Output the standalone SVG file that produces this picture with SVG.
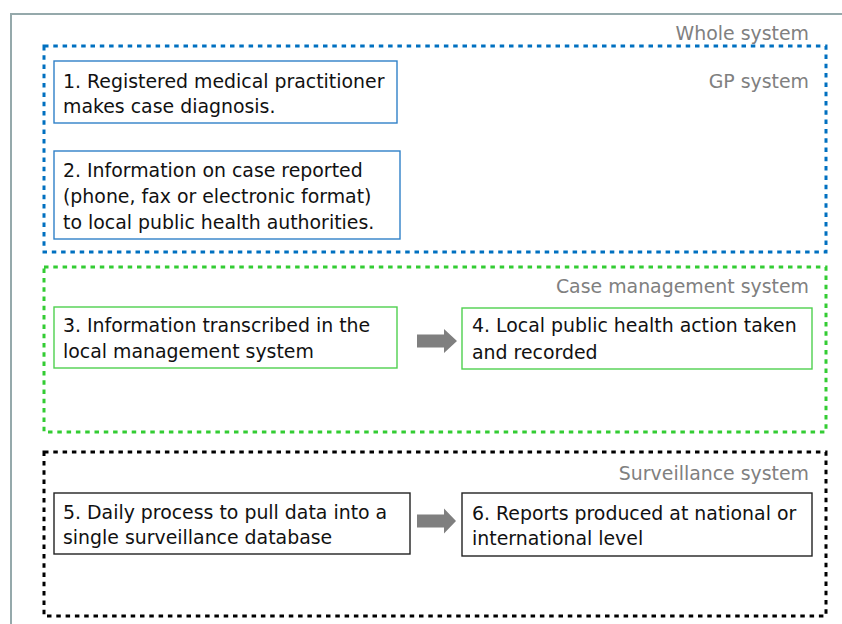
<svg xmlns="http://www.w3.org/2000/svg" width="842" height="624" viewBox="0 0 842 624">
  <style>
    .frame { fill: none; stroke: #95a9ab; stroke-width: 2; }
    .zone { fill: none; stroke-width: 3; stroke-dasharray: 4.5 4.8; }
    .zone-gp { stroke: #0070c0; }
    .zone-case { stroke: #33cc33; }
    .zone-surv { stroke: #000000; }
    .box { fill: #ffffff; stroke-width: 1.4; }
    .box-gp { stroke: #2f80c8; }
    .box-case { stroke: #4fd04f; }
    .box-surv { stroke: #222222; }
    .label { font-family: "DejaVu Sans", "Liberation Sans", sans-serif; font-size: 18.9px; fill: #808080; text-anchor: end; }
    .txt { font-family: "DejaVu Sans", "Liberation Sans", sans-serif; font-size: 18.9px; fill: #111111; }
    .arrow { fill: #7f7f7f; }
  </style>

  <!-- outer frame (runs off the page to the right and bottom) -->
  <rect class="frame" x="11" y="14" width="900" height="700"/>
  <text class="label" x="809" y="40">Whole system</text>

  <!-- GP system -->
  <g id="gp-system">
    <rect class="zone zone-gp" x="44" y="46" width="782" height="206"/>
    <text class="label" x="809" y="88">GP system</text>
  </g>
  <g id="step1">
    <rect class="box box-gp" x="54" y="61" width="343" height="62"/>
    <text class="txt" x="63" y="88">1. Registered medical practitioner</text>
    <text class="txt" x="63" y="113">makes case diagnosis.</text>
  </g>
  <g id="step2">
    <rect class="box box-gp" x="54" y="151" width="346" height="88"/>
    <text class="txt" x="63" y="177">2. Information on case reported</text>
    <text class="txt" x="63" y="203">(phone, fax or electronic format)</text>
    <text class="txt" x="63" y="229">to local public health authorities.</text>
  </g>

  <!-- Case management system -->
  <g id="case-system">
    <rect class="zone zone-case" x="44" y="267" width="782" height="165"/>
    <text class="label" x="809" y="293">Case management system</text>
  </g>
  <g id="step3">
    <rect class="box box-case" x="54" y="307" width="343" height="61"/>
    <text class="txt" x="63" y="332">3. Information transcribed in the</text>
    <text class="txt" x="63" y="358">local management system</text>
  </g>
  <g id="step4">
    <rect class="box box-case" x="462" y="308" width="350" height="61"/>
    <text class="txt" x="472" y="332">4. Local public health action taken</text>
    <text class="txt" x="472" y="359">and recorded</text>
  </g>

  <!-- Surveillance system -->
  <g id="surveillance-system">
    <rect class="zone zone-surv" x="44" y="452" width="782" height="164"/>
    <text class="label" x="809" y="480">Surveillance system</text>
  </g>
  <g id="step5">
    <rect class="box box-surv" x="54" y="493" width="356" height="61"/>
    <text class="txt" x="63" y="519">5. Daily process to pull data into a</text>
    <text class="txt" x="63" y="544">single surveillance database</text>
  </g>
  <g id="step6">
    <rect class="box box-surv" x="462" y="493" width="350" height="63"/>
    <text class="txt" x="472" y="520">6. Reports produced at national or</text>
    <text class="txt" x="472" y="545">international level</text>
  </g>

  <!-- block arrows between steps -->
  <g id="connectors">
    <polygon class="arrow" points="417,334.5 444,334.5 444,329 457,341 444,353 444,347.5 417,347.5"/>
    <polygon class="arrow" points="417,514.5 444,514.5 444,508.5 456,521 444,533.5 444,527.5 417,527.5"/>
  </g>
</svg>
